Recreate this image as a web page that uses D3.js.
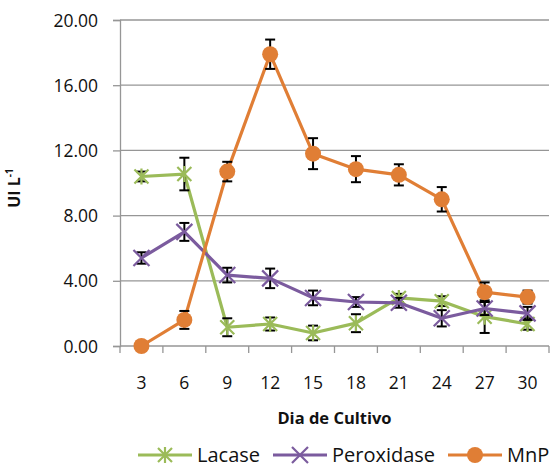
<!DOCTYPE html>
<html>
<head>
<meta charset="utf-8">
<script src="https://cdn.jsdelivr.net/npm/d3@7"></script>
<style>
  body { margin: 0; background: #fff; }
  svg { display: block; font-family: "Open Sans", "Liberation Sans", sans-serif; }
</style>
</head>
<body>
<svg id="chart" width="553" height="467"></svg>
<script>
// Culture days
const days = ["3", "6", "9", "12", "15", "18", "21", "24", "27", "30"];

// Enzyme activity (UI L-1) and standard deviations
const lacase      = [10.4, 10.55, 1.15, 1.35, 0.8, 1.4, 2.95, 2.75, 1.8, 1.35];
const lacaseErr   = [0.3, 1.0, 0.55, 0.4, 0.45, 0.55, 0.25, 0.3, 1.0, 0.35];
const peroxidase    = [5.4, 7.0, 4.35, 4.15, 2.95, 2.7, 2.65, 1.7, 2.3, 2.0];
const peroxidaseErr = [0.35, 0.55, 0.45, 0.6, 0.45, 0.3, 0.3, 0.5, 0.4, 0.4];
const mnp    = [0.0, 1.6, 10.7, 17.9, 11.8, 10.85, 10.5, 9.0, 3.3, 3.0];
const mnpErr = [0.0, 0.55, 0.6, 0.9, 0.95, 0.8, 0.65, 0.75, 0.6, 0.4];

const yTicks = [0, 4, 8, 12, 16, 20];
const seriesNames = ["Lacase", "Peroxidase", "MnP"];
const seriesColors = ["#9BBB59", "#7B5B9E", "#E07E35"];

const svg = d3.select("#chart");
const m = { left: 120, right: 549, top: 20, bottom: 346 };

const x = d3.scaleBand().domain(days).range([m.left, m.right]);
const y = d3.scaleLinear().domain([0, 20]).range([m.bottom, m.top]);

// Gridlines
svg.append("g").selectAll("line").data(yTicks.filter(d => d > 0)).join("line")
  .attr("x1", m.left).attr("x2", m.right)
  .attr("y1", d => y(d)).attr("y2", d => y(d))
  .attr("stroke", "#969696").attr("stroke-width", 1.3);

// Y axis
const yAxis = svg.append("g").attr("transform", `translate(${m.left},0)`)
  .call(d3.axisLeft(y).tickValues(yTicks).tickFormat(d3.format(".2f")).tickSize(7).tickPadding(15));
yAxis.select(".domain").attr("stroke", "#969696").attr("stroke-width", 1.3);
yAxis.selectAll(".tick line").attr("stroke", "#969696").attr("stroke-width", 1.3);
yAxis.selectAll("text").attr("font-size", 17.5).attr("fill", "#111").attr("dy", "0.35em")
  .attr("font-family", "Open Sans");

// X axis: tick marks on band boundaries
const xAxisG = svg.append("g").attr("transform", `translate(0,${m.bottom})`);
xAxisG.append("line").attr("x1", m.left).attr("x2", m.right)
  .attr("stroke", "#969696").attr("stroke-width", 1.3);
const bounds = days.map(d => x(d)).concat([x(days[days.length - 1]) + x.bandwidth()]);
xAxisG.selectAll("line.tk").data(bounds).join("line").attr("class", "tk")
  .attr("x1", d => d).attr("x2", d => d).attr("y1", 0).attr("y2", 7)
  .attr("stroke", "#969696").attr("stroke-width", 1.3);
xAxisG.selectAll("text").data(days).join("text")
  .attr("x", d => x(d) + x.bandwidth() / 2).attr("y", 43)
  .attr("text-anchor", "middle").attr("font-size", 17.5).attr("fill", "#111")
  .text(d => d);

// Axis titles
svg.append("text").attr("x", x("15") + x.bandwidth()).attr("y", 424)
  .attr("text-anchor", "middle").attr("font-size", 16.5).attr("font-weight", "bold")
  .attr("fill", "#111").text("Dia de Cultivo");
const yt = svg.append("text").attr("transform", "translate(20,188) rotate(-90)")
  .attr("text-anchor", "middle").attr("font-size", 16).attr("font-weight", "bold").attr("fill", "#111");
yt.append("tspan").text("UI L");
yt.append("tspan").attr("font-size", 10).attr("dy", -7).text("-1");

const cx = d => x(d) + x.bandwidth() / 2;
const series = [
  { name: "Lacase", vals: lacase, errs: lacaseErr, color: seriesColors[0], marker: "star" },
  { name: "Peroxidase", vals: peroxidase, errs: peroxidaseErr, color: seriesColors[1], marker: "x" },
  { name: "MnP", vals: mnp, errs: mnpErr, color: seriesColors[2], marker: "circle" }
];

function drawMarker(g, type, color) {
  if (type === "circle") {
    g.append("circle").attr("r", 8).attr("fill", color);
  } else if (type === "x") {
    g.append("path").attr("d", "M-8,-8L8,8M-8,8L8,-8").attr("stroke", color).attr("stroke-width", 2.2).attr("fill", "none");
  } else {
    g.append("path").attr("d", "M-7,-7L7,7M-7,7L7,-7M0,-8L0,8").attr("stroke", color).attr("stroke-width", 2.2).attr("fill", "none");
  }
}

const line = d3.line().x((d, i) => cx(days[i])).y(d => y(d));

series.forEach(s => {
  const g = svg.append("g");
  g.append("path").datum(s.vals).attr("d", line)
    .attr("fill", "none").attr("stroke", s.color).attr("stroke-width", 3.2).attr("stroke-linejoin", "round");
  // error bars
  const eb = g.append("g").attr("stroke", "#000").attr("stroke-width", 2);
  s.vals.forEach((v, i) => {
    const e = s.errs[i];
    if (e <= 0) return;
    const px = cx(days[i]);
    eb.append("line").attr("x1", px).attr("x2", px).attr("y1", y(v + e)).attr("y2", y(v - e));
    eb.append("line").attr("x1", px - 5).attr("x2", px + 5).attr("y1", y(v + e)).attr("y2", y(v + e));
    eb.append("line").attr("x1", px - 5).attr("x2", px + 5).attr("y1", y(v - e)).attr("y2", y(v - e));
  });
  s.vals.forEach((v, i) => {
    const mg = g.append("g").attr("transform", `translate(${cx(days[i])},${y(v)})`);
    drawMarker(mg, s.marker, s.color);
  });
});

// Legend
const legendX = [138, 273, 448];
const legend = svg.append("g").attr("transform", "translate(0,455)");
series.forEach((s, i) => {
  const lg = legend.append("g").attr("transform", `translate(${legendX[i]},0)`);
  lg.append("line").attr("x1", 0).attr("x2", 54).attr("stroke", s.color).attr("stroke-width", 3.2);
  drawMarker(lg.append("g").attr("transform", "translate(27,0)"), s.marker, s.color);
  lg.append("text").attr("x", 59).attr("y", 0).attr("dy", "0.35em")
    .attr("font-size", 20).attr("fill", "#111").text(s.name);
});
</script>
</body>
</html>
